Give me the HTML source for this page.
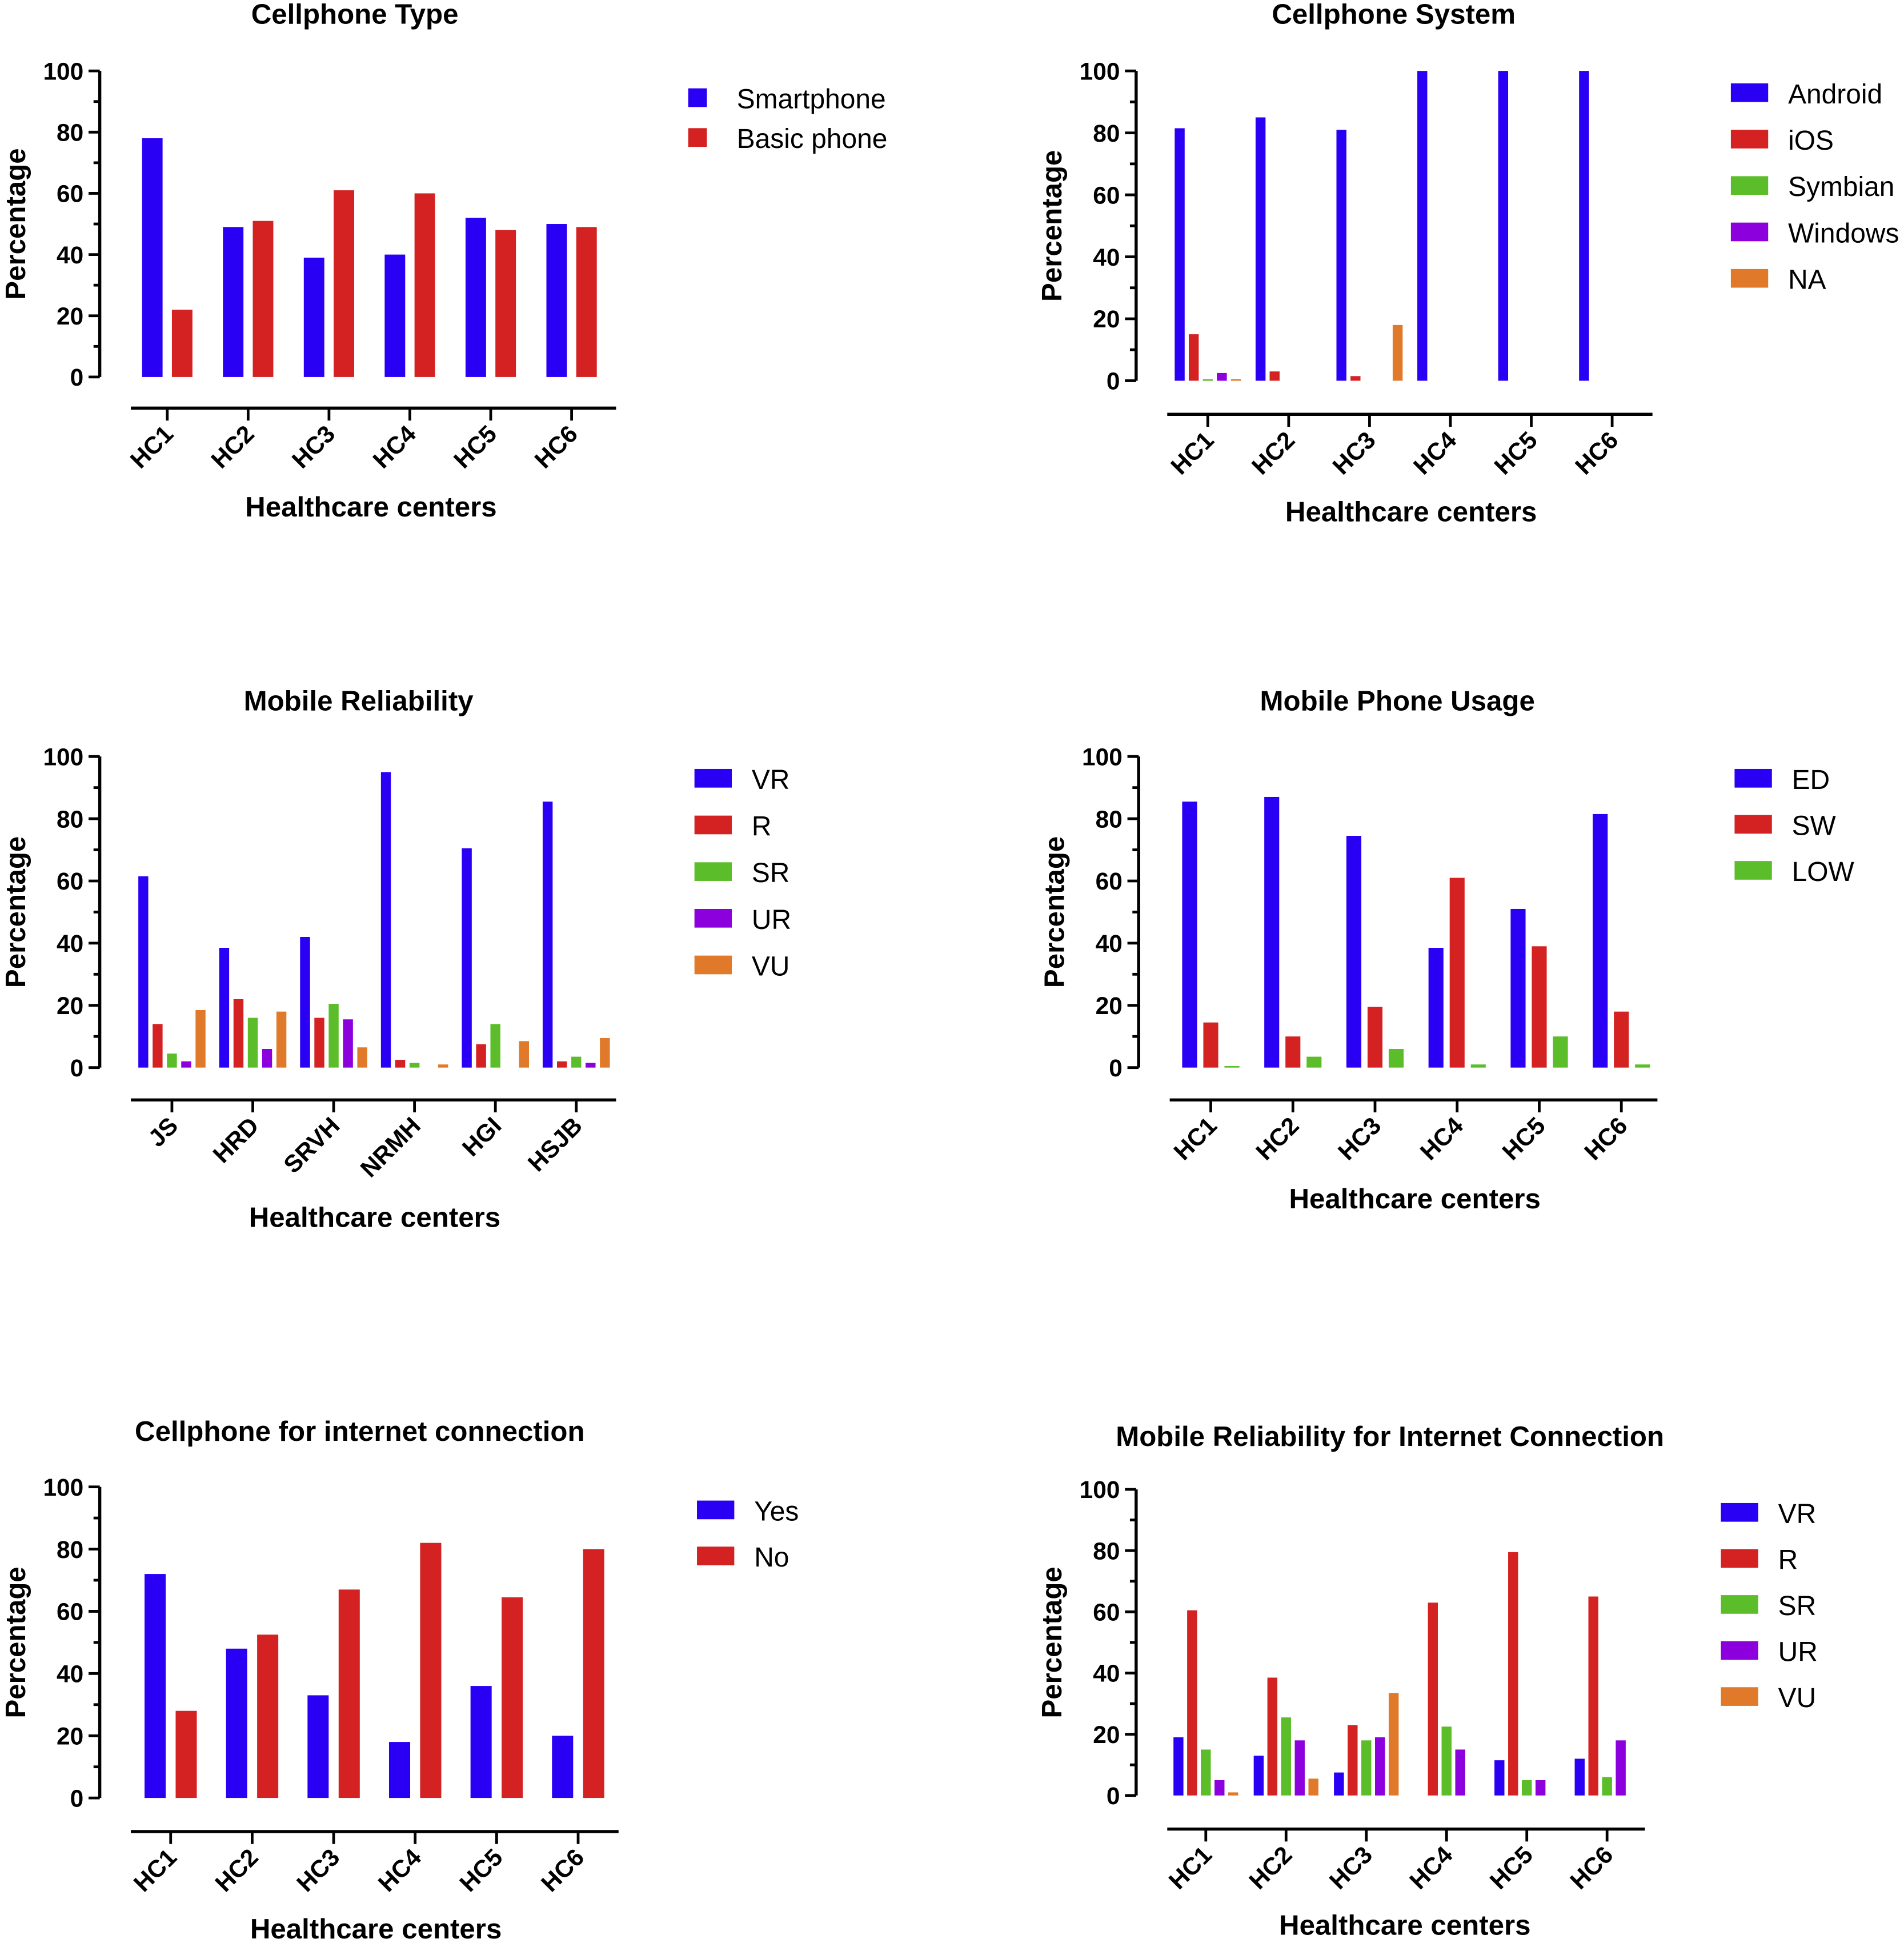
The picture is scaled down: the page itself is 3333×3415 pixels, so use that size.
<!DOCTYPE html>
<html><head><meta charset="utf-8">
<style>html,body{margin:0;padding:0;background:#fff}svg{display:block}</style></head>
<body>
<svg id="fig" width="3333" height="3415" viewBox="0 0 1530 1568" xmlns="http://www.w3.org/2000/svg" font-family="Liberation Sans, Arial, sans-serif"></svg>
<script>
const COLORS={blue:'#2a00f5',red:'#d42222',green:'#5cbd2a',purple:'#8c00dd',orange:'#e07a2a'};
const hcCats=['HC1','HC2','HC3','HC4','HC5','HC6'];
const relCats=['JS','HRD','SRVH','NRMH','HGI','HSJB'];
const yTicks=[0,20,40,60,80,100];
// Chart 1
const typeSeries=['Smartphone','Basic phone'];
const typeSmart=[78,49,39,40,52,50];
const typeBasic=[22,51,61,60,48,49];
// Chart 2
const sysSeries=['Android','iOS','Symbian','Windows','NA'];
const sysAndroid=[81.5,85,81,100,100,100];
const sysIOS=[15,3,1.5,0,0,0];
const sysSymbian=[0.5,0,0,0,0,0];
const sysWindows=[2.5,0,0,0,0,0];
const sysNA=[0.5,0,18,0,0,0];
// Chart 3
const relSeries=['VR','R','SR','UR','VU'];
const relVR=[61.5,38.5,42,95,70.5,85.5];
const relR=[14,22,16,2.5,7.5,2];
const relSR=[4.5,16,20.5,1.5,14,3.5];
const relUR=[2,6,15.5,0,0,1.5];
const relVU=[18.5,18,6.5,1,8.5,9.5];
// Chart 4
const useSeries=['ED','SW','LOW'];
const useED=[85.5,87,74.5,38.5,51,81.5];
const useSW=[14.5,10,19.5,61,39,18];
const useLOW=[0.5,3.5,6,1,10,1];
// Chart 5
const netSeries=['Yes','No'];
const netYes=[72,48,33,18,36,20];
const netNo=[28,52.5,67,82,64.5,80];
// Chart 6
const irSeries=['VR','R','SR','UR','VU'];
const irVR=[19,13,7.5,0,11.5,12];
const irR=[60.5,38.5,23,63,79.5,65];
const irSR=[15,25.5,18,22.5,5,6];
const irUR=[5,18,19,15,5,18];
const irVU=[1,5.5,33.5,0,0,0];

const svg=document.getElementById('fig');
const NS='http://www.w3.org/2000/svg';
function mk(tag,attrs,parent,text){const e=document.createElementNS(NS,tag);for(const k in attrs)e.setAttribute(k,attrs[k]);if(text!==undefined)e.textContent=text;parent.appendChild(e);return e;}

function chart(c){
  const g=mk('g',{},svg);
  
  
  const y=v=>c.y0-(c.y0-c.y100)*v/100;
  const t=mk('text',{x:c.titleX,y:c.titleY,'text-anchor':'middle','font-size':22.6,'font-weight':'bold'},g,c.title);
  
  
  const ya=mk('line',{x1:c.ax,x2:c.ax,y1:c.y100,y2:c.y0,stroke:'#000','stroke-width':2.5},g);
  
  
  for(let v=0;v<=100;v+=10){const major=v%20===0;mk('line',{x1:c.ax-(major?9:5),x2:c.ax,y1:y(v),y2:y(v),stroke:'#000','stroke-width':2.2},g);}
  yTicks.forEach(v=>{const tl=mk('text',{x:c.ax-13,y:y(v)+7,'text-anchor':'end','font-size':19.5,'font-weight':'bold'},g,String(v));
    
    });
  const yt=mk('text',{x:0,y:0,'text-anchor':'middle','font-size':22.6,'font-weight':'bold',transform:`translate(${c.ax-60},${(c.y0+c.y100)/2}) rotate(-90)`},g,'Percentage');
  
  
  const xa=mk('line',{x1:c.xl,x2:c.xr,y1:c.xy,y2:c.xy,stroke:'#000','stroke-width':2.5},g);
  
  
  const n=c.series.length;
  c.cats.forEach((cat,i)=>{
    const gx=c.x0+i*c.spacing;
    const cx=gx+((n-1)*c.step+c.bw)/2;
    mk('line',{x1:cx,x2:cx,y1:c.xy,y2:c.xy+10,stroke:'#000','stroke-width':2.2},g);
    const tl=mk('text',{x:0,y:0,'text-anchor':'end','font-size':19.5,'font-weight':'bold',transform:`translate(${cx+6},${c.xy+22}) rotate(-45)`},g,cat);
    
    
    c.series.forEach((s,j)=>{
      const v=s.data[i];
      const b=mk('rect',{x:gx+j*c.step,y:y(v),width:c.bw,height:Math.max(0,c.y0-y(v)),fill:s.color},g);
      
      
    });
  });
  const xt=mk('text',{x:c.xtX,y:c.xtY,'text-anchor':'middle','font-size':22.6,'font-weight':'bold'},g,'Healthcare centers');
  
  
  c.series.forEach((s,j)=>{
    const ly=c.ly+j*c.lstep;
    const sw=mk('rect',{x:c.lx,y:ly-8,width:c.lw,height:15,fill:s.color},g);
    
    
    const lt=mk('text',{x:c.lx+c.lw+(c.lw>20?16:24),y:ly+8,'font-size':22},g,s.label);
    
    
  });
}
const C=COLORS;
chart({name:'cellphone-type-chart',title:'Cellphone Type',titleX:285,titleY:19,ax:80,y0:303,y100:57,xl:105,xr:495,xy:328,
 cats:hcCats,x0:114,spacing:65,bw:16.5,step:24,xtX:298,xtY:415,lx:553,ly:79,lstep:32,lw:15,
 series:[{label:typeSeries[0],data:typeSmart,color:C.blue},{label:typeSeries[1],data:typeBasic,color:C.red}]});
chart({name:'cellphone-system-chart',title:'Cellphone System',titleX:1120,titleY:19,ax:913,y0:306,y100:57,xl:938,xr:1328,xy:333,
 cats:hcCats,x0:944,spacing:65,bw:8,step:11.3,xtX:1134,xtY:419,lx:1391,ly:75,lstep:37.3,lw:30,
 series:[{label:sysSeries[0],data:sysAndroid,color:C.blue},{label:sysSeries[1],data:sysIOS,color:C.red},{label:sysSeries[2],data:sysSymbian,color:C.green},{label:sysSeries[3],data:sysWindows,color:C.purple},{label:sysSeries[4],data:sysNA,color:C.orange}]});
chart({name:'mobile-reliability-chart',title:'Mobile Reliability',titleX:288,titleY:571,ax:80,y0:858,y100:608,xl:105,xr:495,xy:884,
 cats:relCats,x0:111,spacing:65,bw:8,step:11.5,xtX:301,xtY:986,lx:558,ly:626,lstep:37.5,lw:30,
 series:[{label:relSeries[0],data:relVR,color:C.blue},{label:relSeries[1],data:relR,color:C.red},{label:relSeries[2],data:relSR,color:C.green},{label:relSeries[3],data:relUR,color:C.purple},{label:relSeries[4],data:relVU,color:C.orange}]});
chart({name:'mobile-phone-usage-chart',title:'Mobile Phone Usage',titleX:1123,titleY:571,ax:915,y0:858,y100:608,xl:940,xr:1332,xy:884,
 cats:hcCats,x0:950,spacing:66,bw:12,step:17,xtX:1137,xtY:971,lx:1394,ly:626,lstep:37,lw:30,
 series:[{label:useSeries[0],data:useED,color:C.blue},{label:useSeries[1],data:useSW,color:C.red},{label:useSeries[2],data:useLOW,color:C.green}]});
chart({name:'internet-connection-chart',title:'Cellphone for internet connection',titleX:289,titleY:1158,ax:80,y0:1445,y100:1195,xl:105,xr:497,xy:1472,
 cats:hcCats,x0:116,spacing:65.5,bw:17,step:25,xtX:302,xtY:1558,lx:560,ly:1214,lstep:37,lw:30,
 series:[{label:netSeries[0],data:netYes,color:C.blue},{label:netSeries[1],data:netNo,color:C.red}]});
chart({name:'internet-reliability-chart',title:'Mobile Reliability for Internet Connection',titleX:1117,titleY:1162,ax:913,y0:1443,y100:1197,xl:938,xr:1322,xy:1470,
 cats:hcCats,x0:943,spacing:64.5,bw:8,step:11,xtX:1129,xtY:1555,lx:1383,ly:1216,lstep:37,lw:30,
 series:[{label:irSeries[0],data:irVR,color:C.blue},{label:irSeries[1],data:irR,color:C.red},{label:irSeries[2],data:irSR,color:C.green},{label:irSeries[3],data:irUR,color:C.purple},{label:irSeries[4],data:irVU,color:C.orange}]});
</script>
</body></html>
